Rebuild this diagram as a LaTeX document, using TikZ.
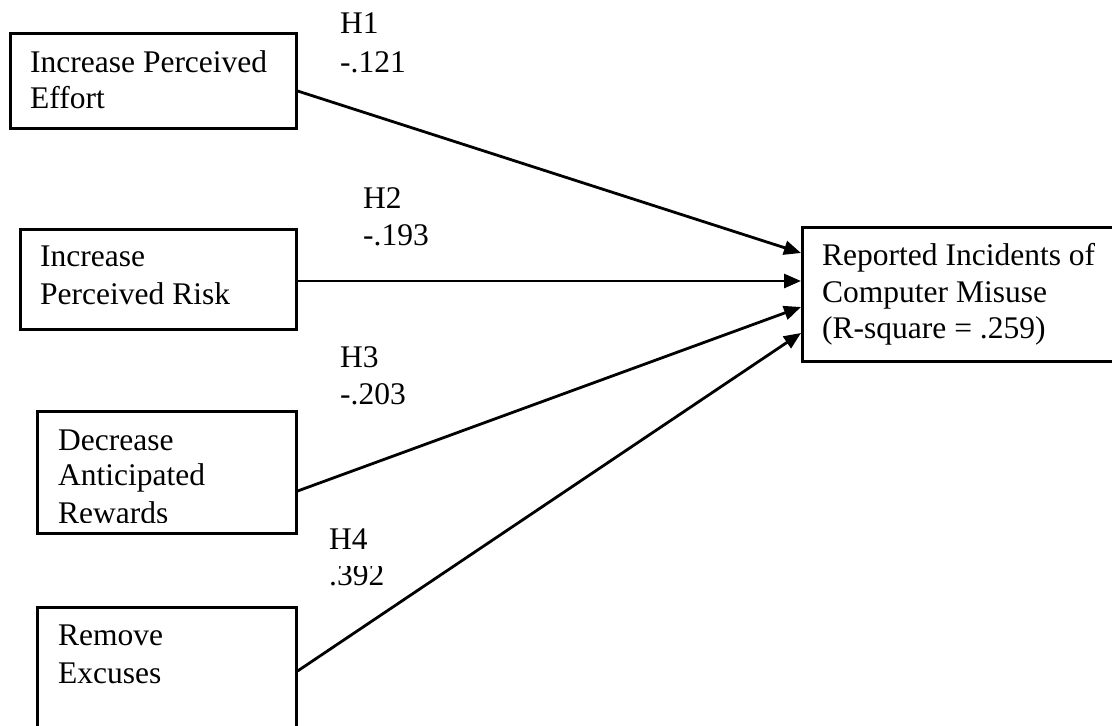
\documentclass[tikz,border=0pt]{standalone}
\usepackage{fontspec}
\setmainfont{Liberation Serif}
\usetikzlibrary{arrows.meta}
\begin{document}
\begin{tikzpicture}[x=1pt,y=-1pt,
  box/.style={draw, line width=2.6pt, rectangle, inner sep=0pt, anchor=north west},
  txt/.style={inner sep=0pt, anchor=base west, font=\fontsize{31.5}{36}\selectfont},
  arr/.style={line width=2.8pt, -{Triangle[length=17pt,width=14pt]}}]
\clip (0,0) rectangle (1112,726);
% boxes
\node[box, minimum width=286pt, minimum height=95pt] (b1) at (9,32) {};
\node[box, minimum width=276pt, minimum height=100pt] (b2) at (19,228) {};
\node[box, minimum width=259pt, minimum height=122pt] (b3) at (36,410) {};
\node[box, minimum width=259pt, minimum height=150pt] (b4) at (36,606) {};
\node[box, minimum width=330pt, minimum height=134pt] (t) at (801,226) {};
% box texts
\node[txt] (b1a) at (30,72) {Increase Perceived};
\node[txt] (b1b) at (30,108) {Effort};
\node[txt] (b2a) at (40,266) {Increase};
\node[txt] (b2b) at (40,304) {Perceived Risk};
\node[txt] (b3a) at (58,450) {Decrease};
\node[txt] (b3b) at (58,485) {Anticipated};
\begin{scope}
\clip (36,480) rectangle (295,522);
\node[txt] (b3c) at (58,523) {Rewards};
\end{scope}
\node[txt] (b4a) at (58,645) {Remove};
\node[txt] (b4b) at (58,683) {Excuses};
\node[txt] (ta) at (822,265) {Reported Incidents of};
\node[txt] (tb) at (822,302) {Computer Misuse};
\node[txt] (tc) at (822,338) {(R-square = .259)};
% labels
\node[txt] (h1) at (340,33) {H1};
\node[txt] (v1) at (340,72) {-.121};
\node[txt] (h2) at (363,208) {H2};
\node[txt] (v2) at (363,245) {-.193};
\node[txt] (h3) at (340,367) {H3};
\node[txt] (v3) at (340,404) {-.203};
\node[txt] (h4) at (329,549) {H4};
\begin{scope}
\clip (300,566) rectangle (500,600);
\node[txt] (v4) at (329,585) {.392};
\end{scope}
% connectors
\draw[arr] (b1.east |- 0,91) -- (t.west |- 0,253);
\draw[arr] (b2.east |- 0,281) -- (t.west |- 0,281);
\draw[arr] (b3.east |- 0,491) -- (t.west |- 0,307);
\draw[arr] (b4.east |- 0,671) -- (t.west |- 0,333);
\end{tikzpicture}
\end{document}
